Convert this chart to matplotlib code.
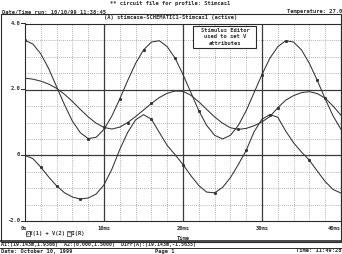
import numpy as np
import matplotlib.pyplot as plt

# time in ms
t_ms = list(range(0, 41))
v1 = [3.50, 3.39, 3.09, 2.64, 2.09, 1.54, 1.04, 0.69, 0.51, 0.55,
      0.79, 1.20, 1.72, 2.28, 2.80, 3.21, 3.45, 3.49, 3.31, 2.96,
      2.46, 1.91, 1.36, 0.91, 0.61, 0.50, 0.61, 0.91, 1.36, 1.91,
      2.46, 2.96, 3.31, 3.49, 3.45, 3.21, 2.80, 2.28, 1.72, 1.20, 0.79]
v2 = [2.35, 2.32, 2.26, 2.17, 2.04, 1.86, 1.64, 1.40, 1.17, 0.98,
      0.85, 0.80, 0.86, 1.00, 1.18, 1.38, 1.58, 1.76, 1.89, 1.96,
      1.95, 1.83, 1.63, 1.40, 1.17, 0.98, 0.84, 0.79, 0.82, 0.90,
      1.02, 1.18, 1.45, 1.68, 1.82, 1.91, 1.94, 1.88, 1.74, 1.50, 1.22]
ir = [0.00, -0.10, -0.36, -0.66, -0.93, -1.14, -1.27, -1.33, -1.30, -1.18,
      -0.90, -0.42, 0.18, 0.70, 1.08, 1.24, 1.10, 0.70, 0.30, 0.02,
      -0.28, -0.62, -0.92, -1.12, -1.14, -0.98, -0.68, -0.28, 0.15, 0.72,
      1.10, 1.24, 1.16, 0.74, 0.38, 0.10, -0.15, -0.48, -0.80, -1.04, -1.15]

mk_v1 = [0, 8, 12, 15, 19, 22, 30, 33, 37]
mk_v2 = [10, 13, 16, 27, 32, 38]
mk_ir = [2, 4, 7, 16, 20, 24, 28, 31, 36]

x_ticks = [0, 10, 20, 30, 40]
x_labels = ['0s', '10ms', '20ms', '30ms', '40ms']
y_ticks = [-2.0, 0.0, 2.0, 4.0]
y_labels = ['-2.0', '0', '2.0', '4.0']

W, H = 342, 254
mono = ['DejaVu Sans Mono', 'DejaVu Sans']
ink = '#2a2a2a'

fig = plt.figure(figsize=(W / 100, H / 100), dpi=100)
fig.patch.set_facecolor('white')

def px(x, y):
    return x / W, 1 - y / H

def txt(x, y, s, ha='left', size=3.9):
    fig.text(*px(x, y), s, ha=ha, va='center', fontsize=size,
             family=mono, weight='bold', color=ink, zorder=10)

ax = fig.add_axes([25 / W, 1 - 221 / H, 316 / W, 197 / H])
ax.set_xlim(0, 40)
ax.set_ylim(-2, 4)

# dotted minor grid
for g in np.arange(0, 40.1, 2):
    ax.axvline(g, color='#9a9a9a', lw=0.6, ls=(0, (1, 1.5)), zorder=1)
for g in np.arange(-2, 4.01, 0.5):
    ax.axhline(g, color='#9a9a9a', lw=0.6, ls=(0, (1, 1.5)), zorder=1)
for g in [10, 20, 30]:
    ax.axvline(g, color='#3a3a3a', lw=0.9, zorder=2)
for g in [0, 2]:
    ax.axhline(g, color='#3a3a3a', lw=0.9, zorder=2)

for ys, mk in [(v1, mk_v1), (v2, mk_v2), (ir, mk_ir)]:
    ax.plot(t_ms, ys, color='#333333', lw=0.75, marker='s', ms=1.1,
            markevery=mk, zorder=3)

ax.set_xticks(x_ticks)
ax.set_yticks(y_ticks)
ax.set_xticklabels([])
ax.set_yticklabels([])
ax.tick_params(length=0)
for s in ax.spines.values():
    s.set_color(ink)
    s.set_linewidth(0.8)

# tick labels as text in pixel layout
for xv, lab in zip(x_ticks, x_labels):
    xp = 25 + xv * 7.9
    if lab == '40ms':
        txt(341, 229, lab, ha='right')
    else:
        txt(xp - 1 if xv == 0 else xp, 229, lab, ha='center')
for yv, lab in zip(y_ticks, y_labels):
    yp = 155 - yv * 33
    txt(20, yp, lab, ha='right')
    fig.add_artist(plt.Line2D([21 / W, 25 / W], [1 - yp / H] * 2,
                              color=ink, lw=0.7))

# header
txt(170, 4, '** circuit file for profile: Stimcas1', ha='center')
txt(2, 12, 'Date/Time run: 10/10/99 11:38:45')
txt(342, 12, 'Temperature: 27.0', ha='right')
txt(171, 17.5, '(A) stimcase-SCHEMATIC1-Stimcas1 (active)', ha='center')

# outer frame
frame = plt.Rectangle(px(1, 242), 340 / W, 228 / H, transform=fig.transFigure,
                      fill=False, ec=ink, lw=0.8)
fig.add_artist(frame)
fig.add_artist(plt.Line2D([0, 1], [1 - 241 / H] * 2, color=ink, lw=1.2))
fig.add_artist(plt.Line2D([0, 1], [1 - 247.5 / H] * 2, color=ink, lw=0.7))

# stimulus editor note
box = plt.Rectangle(px(193, 48), 63 / W, 22 / H, transform=fig.transFigure,
                    fc='white', ec=ink, lw=0.8, zorder=5)
fig.add_artist(box)
txt(225, 30.5, 'Stimulus Editor', ha='center')
txt(225, 37, 'used to set V', ha='center')
txt(225, 43.5, 'attributes', ha='center')

# legend and x title
txt(26, 233, '\u25c7V(1) + V(2) \u25bdI(R)')
for bx in [25.5, 66.5]:
    fig.add_artist(plt.Rectangle(px(bx, 235.5), 4.5 / W, 5 / H,
                                 transform=fig.transFigure, fill=False,
                                 ec=ink, lw=0.5))
txt(183, 238, 'Time', ha='center')

# footer
txt(1, 244.5, 'A1:(19.143m,1.9366)  A2:(0.000,1.5000)  DIFF(A):(19.143m,-1.5635)',
    size=3.6)
txt(1, 251, 'Date: October 10, 1999')
txt(165, 251, 'Page 1', ha='center')
txt(342, 251, 'Time: 11:49:28', ha='right')

fig.savefig('out.png', dpi=100, facecolor='white')
